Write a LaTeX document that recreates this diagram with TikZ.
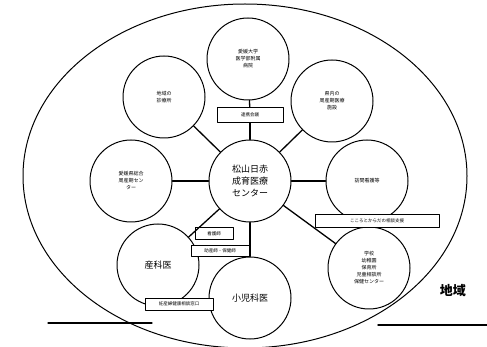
\documentclass[tikz,border=0pt]{standalone}
\usepackage{fontspec}
\setmainfont{Noto Sans CJK JP}
\usetikzlibrary{backgrounds}

\begin{document}
\begin{tikzpicture}[
  line cap=round,
  line join=round,
  line width=1pt,
  x=1pt,
  y=-1pt,
  show background rectangle,
  background rectangle/.style={
    fill=white,
    draw=none,
  },
  site/.style={
    draw,
    circle,
    fill=white,
    minimum size=82pt,
    inner sep=0pt,
    align=center,
    font=\fontsize{5}{7}\selectfont,
  },
  tag/.style={
    draw,
    rectangle,
    fill=white,
    inner sep=0pt,
    font=\fontsize{4.5}{5}\selectfont,
  },
  link/.style={
    line width=1.3pt,
  },
]

  \useasboundingbox (0,0) rectangle (487,347);
  \clip (0,0) rectangle (487,347);

  \draw (245,176) ellipse [x radius=222pt, y radius=172pt];
  \draw[line width=1.2pt] (48,323) -- (152,323);
  \draw[line width=1.4pt] (378,325) -- (487,325);

  \node[site, font=\fontsize{9}{12}\selectfont] (hub) at (250,181) {松山日赤\\成育医療\\センター};
  \node[site] (univ) at (248,59) {愛媛大学\\医学部附属\\病院};
  \node[site] (clinic) at (164,97) {地域の\\診療所};
  \node[site] (pref) at (332,101) {県内の\\周産期医療\\施設};
  \node[site] (peri) at (131,181) {愛媛県総合\\周産期セン\\ター};
  \node[site] (visit) at (367,181) {訪問看護等};
  \node[site] (school) at (369,268) {学校\\幼稚園\\保育所\\児童相談所\\保健センター};
  \node[site, font=\fontsize{9}{12}\selectfont] (obst) at (158,265) {産科医};
  \node[site, font=\fontsize{9}{12}\selectfont] (pedi) at (250,298) {小児科医};

  \node[tag, minimum width=66pt, minimum height=15pt] (meet) at (250,115) {連携会議};
  \node[tag, minimum width=38pt, minimum height=12pt] (nurse) at (214,234) {看護師};
  \node[tag, minimum width=58pt, minimum height=11pt] (midw) at (220,251) {助産師・保健師};
  \node[tag, minimum width=124pt, minimum height=13pt] (consult) at (377,221) {こころとからだの相談支援};
  \node[tag, minimum width=68pt, minimum height=12pt] (perimeet) at (179,304) {妊産婦健康相談窓口};

  \node[anchor=west, font=\fontsize{13}{13}\selectfont\bfseries] (area) at (436,291) {地域};

  \draw[link] (univ) -- (meet);
  \draw[link] (meet) -- (hub);
  \draw[link] (hub) -- (clinic);
  \draw[link] (hub) -- (pref);
  \draw[link] (hub) -- (peri);
  \draw[link] (hub) -- (visit);
  \draw[link] (hub) -- (school);
  \draw[link] (hub) -- (obst);
  \draw[link] (hub) -- (pedi);

\end{tikzpicture}
\end{document}
